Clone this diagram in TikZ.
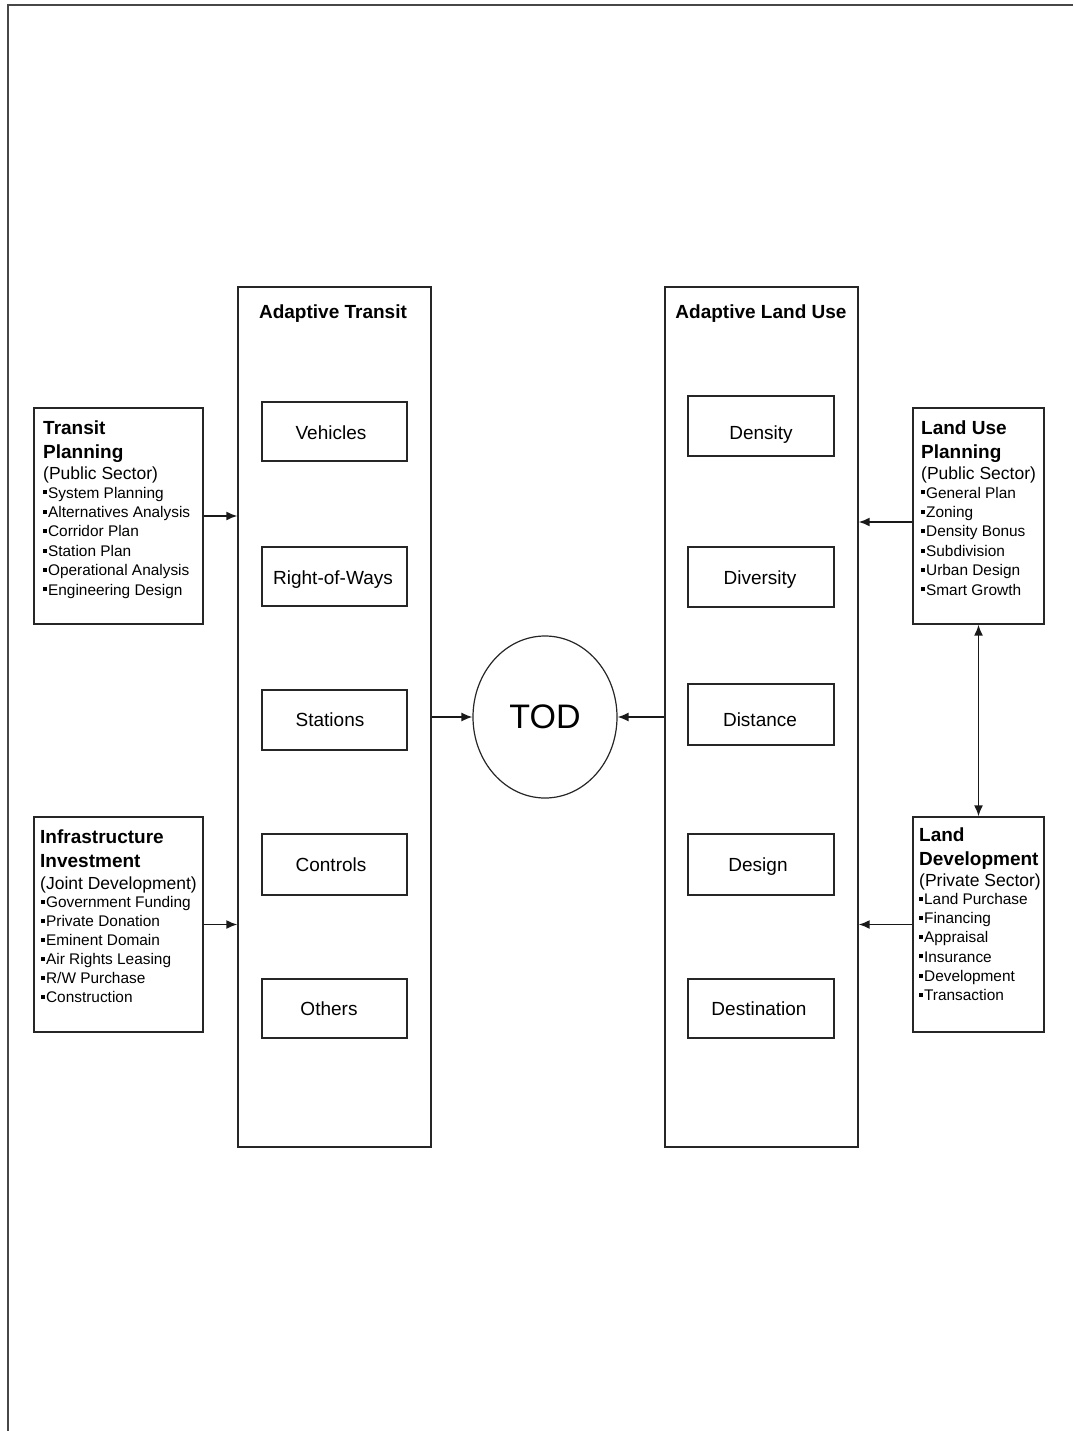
\documentclass[tikz,border=0pt]{standalone}
\usepackage{fontspec}
\setmainfont{Liberation Sans}
\usetikzlibrary{arrows.meta,shapes.geometric}
\newcommand\bul{\rule[0.24em]{0.26em}{0.26em}\hspace{0.06em}}
\begin{document}
\begin{tikzpicture}[x=1pt,y=-1pt,
  frameline/.style={line width=2pt, draw=black!72},
  box/.style={draw=black!85, line width=1.4pt, inner sep=0pt, fill=none},
  arr/.style={-{Latex[length=11pt,width=9pt]}, line width=1.5pt, draw=black!90},
  dbl/.style={{Latex[length=11pt,width=9pt]}-{Latex[length=11pt,width=9pt]}, line width=1.5pt, draw=black!90},
  ttl/.style={font=\fontsize{19}{23}\selectfont\bfseries, anchor=base west, inner sep=0pt},
  sub/.style={font=\fontsize{17.5}{21}\selectfont, anchor=base west, inner sep=0pt},
  item/.style={font=\fontsize{15.4}{19}\selectfont, anchor=base west, inner sep=0pt},
  lab/.style={font=\fontsize{19}{23}\selectfont, inner sep=0pt, anchor=base},
  head/.style={font=\fontsize{19}{23}\selectfont\bfseries, anchor=base, inner sep=0pt}]
\useasboundingbox (0,0) rectangle (1073,1431);
% page frame
\draw[frameline] (7,5) -- (1073,5);
\draw[frameline] (8,4) -- (8,1431);

% big columns
\node[box, minimum width=193pt, minimum height=860pt] (at) at (334.5,717) {};
\node[box, minimum width=193pt, minimum height=860pt] (alu) at (761.5,717) {};
\node[head] (att) at (333,318) {Adaptive Transit};
\node[head] (alut) at (761,318) {Adaptive Land Use};

% inner boxes left
\node[box, minimum width=145pt, minimum height=59pt] (veh) at (334.5,431.5) {};
\node[box, minimum width=145pt, minimum height=59pt] (row) at (334.5,576.5) {};
\node[box, minimum width=145pt, minimum height=60pt] (sta) at (334.5,720) {};
\node[box, minimum width=145pt, minimum height=61pt] (con) at (334.5,864.5) {};
\node[box, minimum width=145pt, minimum height=59pt] (oth) at (334.5,1008.5) {};
\node[lab] (vehl) at (331,439) {Vehicles};
\node[lab] (rowl) at (333,584) {Right-of-Ways};
\node[lab] (stal) at (330,726) {Stations};
\node[lab] (conl) at (331,871) {Controls};
\node[lab] (othl) at (329,1015) {Others};

% inner boxes right
\node[box, minimum width=146pt, minimum height=60pt] (den) at (761,426) {};
\node[box, minimum width=146pt, minimum height=60pt] (div) at (761,577) {};
\node[box, minimum width=146pt, minimum height=61pt] (dis) at (761,714.5) {};
\node[box, minimum width=146pt, minimum height=61pt] (des) at (761,864.5) {};
\node[box, minimum width=146pt, minimum height=59pt] (dst) at (761,1008.5) {};
\node[lab] (denl) at (761,439) {Density};
\node[lab] (divl) at (760,584) {Diversity};
\node[lab] (disl) at (760,726) {Distance};
\node[lab] (desl) at (758,871) {Design};
\node[lab] (dstl) at (759,1015) {Destination};

% TOD
\node[draw=black!85, line width=1.2pt, ellipse, minimum width=144pt, minimum height=162pt, inner sep=0pt,
      font=\fontsize{34}{40}\selectfont] (tod) at (545,717) {TOD};

% side boxes
\node[box, minimum width=169pt, minimum height=216pt] (tp) at (118.5,516) {};
\node[box, minimum width=169pt, minimum height=215pt] (ii) at (118.5,924.5) {};
\node[box, minimum width=131pt, minimum height=216pt] (lup) at (978.5,516) {};
\node[box, minimum width=131pt, minimum height=215pt] (ld) at (978.5,924.5) {};

% Transit Planning text
\node[ttl] (tp1) at (43,434) {Transit};
\node[ttl] (tp2) at (43,458) {Planning};
\node[sub] (tp3) at (43,479) {(Public Sector)};
\foreach \t [count=\i from 0] in {System Planning,Alternatives Analysis,Corridor Plan,Station Plan,Operational Analysis,Engineering Design}
  \node[item] (tpi\i) at (43,{498+19.4*\i}) {\bul\t};

% Infrastructure Investment text
\node[ttl] (ii1) at (40,843) {Infrastructure};
\node[ttl] (ii2) at (40,867) {Investment};
\node[sub] (ii3) at (40,889) {(Joint Development)};
\foreach \t [count=\i from 0] in {Government Funding,Private Donation,Eminent Domain,Air Rights Leasing,R/W Purchase,Construction}
  \node[item] (iii\i) at (41,{907.5+19*\i}) {\bul\t};

% Land Use Planning text
\node[ttl] (lup1) at (921,434) {Land Use};
\node[ttl] (lup2) at (921,458) {Planning};
\node[sub] (lup3) at (921,479) {(Public Sector)};
\foreach \t [count=\i from 0] in {General Plan,Zoning,Density Bonus,Subdivision,Urban Design,Smart Growth}
  \node[item] (lupi\i) at (921,{498+19.4*\i}) {\bul\t};

% Land Development text
\node[ttl] (ld1) at (919,841) {Land};
\node[ttl] (ld2) at (919,865) {Development};
\node[sub] (ld3) at (919,886) {(Private Sector)};
\foreach \t [count=\i from 0] in {Land Purchase,Financing,Appraisal,Insurance,Development,Transaction}
  \node[item] (ldi\i) at (919,{904.5+19.2*\i}) {\bul\t};

% connectors
\draw[arr] (tp.east) -- (tp.east -| at.west);
\draw[arr] (ii.east) -- (ii.east -| at.west);
\draw[arr] ([yshift=-6pt]lup.west) -- ([yshift=-6pt]lup.west -| alu.east);
\draw[arr] (ld.west) -- (ld.west -| alu.east);
\draw[dbl] (lup.south) -- (ld.north);
\draw[arr] (at.east |- tod.center) -- (tod.west);
\draw[arr] (alu.west |- tod.center) -- (tod.east);
\end{tikzpicture}
\end{document}
